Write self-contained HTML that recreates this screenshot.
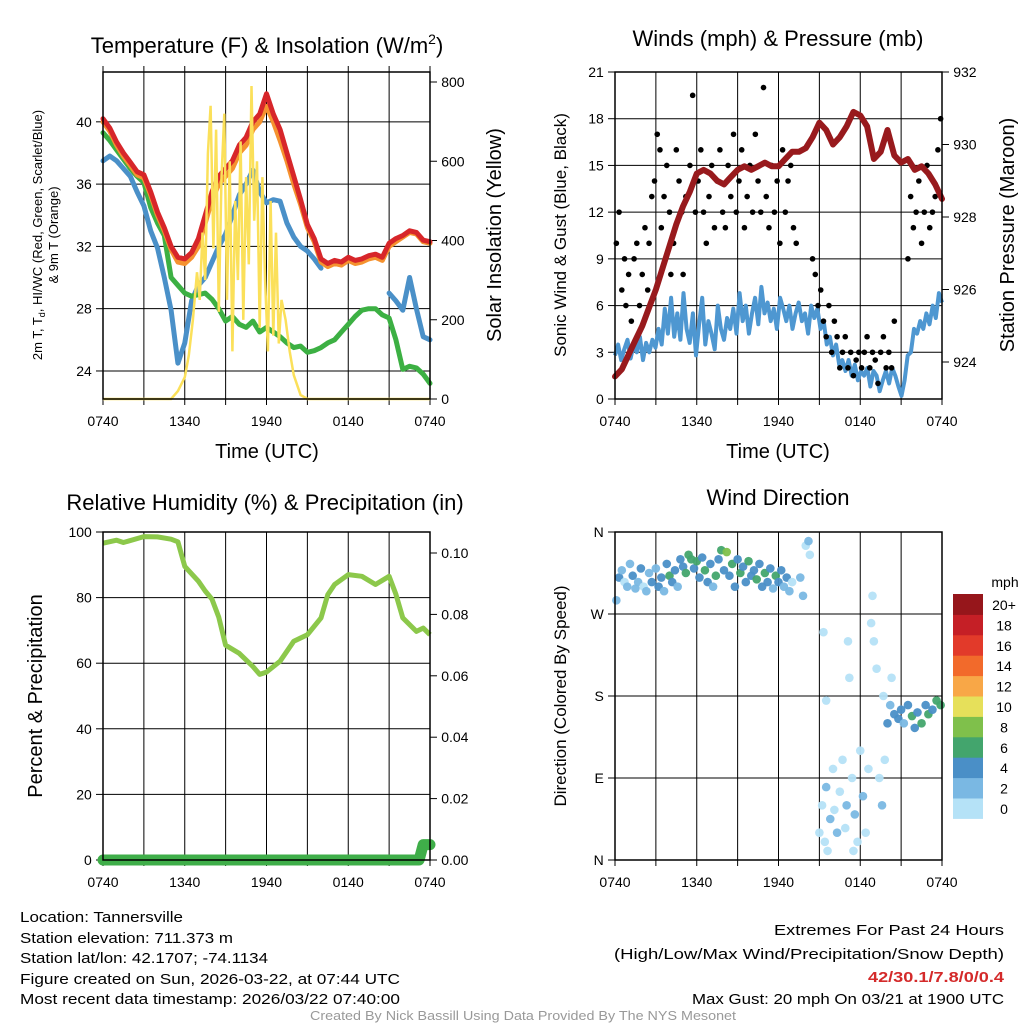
<!DOCTYPE html>
<html><head><meta charset="utf-8"><style>
body{margin:0;background:#fff;}
svg text{font-family:"Liberation Sans",sans-serif;fill:#000;}
</style></head><body>
<svg id="chart" width="1024" height="1024" viewBox="0 0 1024 1024" xmlns="http://www.w3.org/2000/svg">
<g id="layer"></g>
<g font-size="22">
<text x="267" y="53" text-anchor="middle" font-size="22">Temperature (F) &amp; Insolation (W/m<tspan font-size="14" dy="-9">2</tspan><tspan dy="9">)</tspan></text>
<text x="778" y="46" text-anchor="middle" font-size="22">Winds (mph) &amp; Pressure (mb)</text>
<text x="265" y="510" text-anchor="middle" font-size="22">Relative Humidity (%) &amp; Precipitation (in)</text>
<text x="778" y="505" text-anchor="middle" font-size="22">Wind Direction</text>
<text x="267" y="458" text-anchor="middle" font-size="20">Time (UTC)</text>
<text x="778" y="458" text-anchor="middle" font-size="20">Time (UTC)</text>
<text transform="translate(42,235) rotate(-90)" text-anchor="middle" font-size="13">2m T, T<tspan font-size="9" dy="3">d</tspan><tspan dy="-3">, HI/WC (Red, Green, Scarlet/Blue)</tspan></text>
<text transform="translate(58,235) rotate(-90)" text-anchor="middle" font-size="13">&amp; 9m T (Orange)</text>
<text transform="translate(501,235) rotate(-90)" text-anchor="middle" font-size="20">Solar Insolation (Yellow)</text>
<text transform="translate(566,235) rotate(-90)" text-anchor="middle" font-size="17">Sonic Wind &amp; Gust (Blue, Black)</text>
<text transform="translate(1014,235) rotate(-90)" text-anchor="middle" font-size="20">Station Pressure (Maroon)</text>
<text transform="translate(42,696) rotate(-90)" text-anchor="middle" font-size="20">Percent &amp; Precipitation</text>
<text transform="translate(566,696) rotate(-90)" text-anchor="middle" font-size="17">Direction (Colored By Speed)</text>
</g>
<g font-size="15">
<text x="20" y="922" textLength="163" lengthAdjust="spacingAndGlyphs">Location: Tannersville</text>
<text x="20" y="943" textLength="213" lengthAdjust="spacingAndGlyphs">Station elevation: 711.373 m</text>
<text x="20" y="963" textLength="248" lengthAdjust="spacingAndGlyphs">Station lat/lon: 42.1707; -74.1134</text>
<text x="20" y="984" textLength="380" lengthAdjust="spacingAndGlyphs">Figure created on Sun, 2026-03-22, at 07:44 UTC</text>
<text x="20" y="1004" textLength="380" lengthAdjust="spacingAndGlyphs">Most recent data timestamp: 2026/03/22 07:40:00</text>
<text x="1004" y="935" text-anchor="end" textLength="230" lengthAdjust="spacingAndGlyphs">Extremes For Past 24 Hours</text>
<text x="1004" y="959" text-anchor="end" textLength="390" lengthAdjust="spacingAndGlyphs">(High/Low/Max Wind/Precipitation/Snow Depth)</text>
<text x="1004" y="982" text-anchor="end" font-weight="bold" style="fill:#d42a2a" textLength="136" lengthAdjust="spacingAndGlyphs">42/30.1/7.8/0/0.4</text>
<text x="1004" y="1004" text-anchor="end" textLength="312" lengthAdjust="spacingAndGlyphs">Max Gust: 20 mph On 03/21 at 1900 UTC</text>
<text x="523" y="1020" text-anchor="middle" font-size="13" style="fill:#999" textLength="426" lengthAdjust="spacingAndGlyphs">Created By Nick Bassill Using Data Provided By The NYS Mesonet</text>
</g>
</svg>
<script>
// ---------- DATA ----------
const halfHourT = [0,0.5,1,1.5,2,2.5,3,3.5,4,4.5,5,5.5,6,6.5,7,7.5,8,8.5,9,9.5,10,10.5,11,11.5,12,12.5,13,13.5,14,14.5,15,15.5,16,16.5,17,17.5,18,18.5,19,19.5,20,20.5,21,21.5,22,22.5,23,23.5,24];
const tempRed = [40.2,39.6,38.7,38,37.4,36.8,36.6,35.5,34.2,33.2,32,31.3,31.2,31.6,32.5,34,35.5,36.5,37,37.5,38.5,39,40,40.5,41.8,40.5,39.5,38,36.5,35,33.4,32.5,31.2,30.9,31.1,31,31.3,31.1,31.2,31.4,31.5,31.3,32.2,32.5,32.7,33,32.9,32.4,32.3];
const tempOrange = [40,39.4,38.5,37.8,37.2,36.6,36.4,35.3,34,33,31.8,31,30.9,31.3,32,33.5,35,36,36.5,37,38,38.5,39.5,40,41,40,38.8,37.5,36,34.7,33.2,32.3,31,30.7,30.9,30.8,31.1,30.9,31,31.2,31.3,31.1,32,32.3,32.6,32.9,32.8,32.3,32.2];
const tempGreen = [39.3,38.8,38.2,37.6,37,36.5,36.1,34.5,33.5,32.7,30,29.5,29,28.8,28.9,29,28.6,28,27.2,27.5,27,26.8,27.2,26.5,26.8,26.5,26.2,25.8,25.5,25.6,25.2,25.3,25.5,25.8,26,26.5,27,27.5,27.9,28,28,27.6,27.4,26,24.1,24.3,24.2,23.8,23.2];
const tempBlue = [37.5,37.8,37.5,37,36.5,35.5,34.6,33,31.9,30,27.9,24.5,25.8,28.5,29.5,30,31,32,32.8,34,35.3,36,36.9,35.5,34.8,35,34.9,33.5,32.6,32,31.7,31.2,30.6,null,null,null,null,null,null,null,null,null,29,28.5,27.9,30,28,26.2,26];
const solarT = [0,5,5.5,6,6.3,6.6,6.9,7.1,7.3,7.5,7.7,7.9,8.1,8.3,8.5,8.7,8.9,9.1,9.3,9.5,9.7,9.9,10.1,10.3,10.5,10.7,10.9,11.1,11.3,11.5,11.7,11.9,12.1,12.3,12.5,12.7,12.9,13.1,13.4,13.7,14,14.5,15,24];
const solarV = [0,0,20,55,110,200,320,250,420,300,620,740,380,680,220,560,720,250,600,120,500,300,650,200,560,340,790,450,600,180,560,300,120,500,160,420,140,250,200,120,60,10,0,0];
const sonicWind = [2.8,3.5,2.5,3.2,3.8,2.6,3.5,3,4,2.5,3.6,3,3.8,3.3,4.5,3.5,5.8,4.2,6.5,4,5.5,3.8,6.8,4.5,3.6,5.5,2.8,4.8,6.5,3.5,5,4.2,3.2,6,4.5,3.8,5.2,4.5,5.8,4.2,6.8,5,6,4.2,5.5,6.5,4.8,7.2,5.5,6.2,5,5.8,4.5,6.5,5.8,5,6,4.5,5.5,6.2,5,5.5,4.2,6,5.2,5.8,4.5,5,3.5,4,2.8,3.5,2.2,2.5,1.8,2.5,1.5,2.2,1.2,1.8,1.5,2,0.8,1.8,1.5,0.5,1.2,1.8,1,2,1.5,0.8,0.2,1.2,2.8,3,4.5,4.2,5,4.5,5.5,4.8,6,5.2,6.8,6.2];
const pressure = [923.6,923.8,924.2,924.6,925,925.5,926,926.6,927.2,927.8,928.3,928.7,929.2,929.3,929.2,929,928.9,929.1,929.3,929.4,929.3,929.4,929.5,929.4,929.4,929.6,929.8,929.8,929.9,930.2,930.6,930.4,930,930.2,930.5,930.9,930.8,930.5,929.6,929.8,930.4,929.7,929.5,929.6,929.3,929.4,929.2,928.9,928.5];
const gustT = [0.1,0.3,0.5,0.7,0.8,1,1.2,1.4,1.6,1.8,2,2.2,2.4,2.5,2.7,2.9,3.1,3.3,3.4,3.6,3.8,4,4.1,4.3,4.5,4.7,4.9,5,5.2,5.5,5.7,5.9,6.1,6.3,6.5,6.7,6.9,7.1,7.3,7.5,7.7,7.9,8.1,8.3,8.5,8.7,8.9,9.1,9.3,9.5,9.7,9.9,10.1,10.3,10.5,10.7,10.9,11.1,11.3,11.5,11.7,11.9,12.1,12.3,12.5,12.7,12.9,13.1,13.3,14.5,14.7,14.9,15.1,15.3,15.5,15.7,15.9,16.1,16.3,16.5,16.7,16.9,17.1,17.3,17.5,17.7,17.9,18.1,18.3,18.5,18.7,18.9,19.1,19.3,19.5,19.7,19.9,20.1,20.3,20.5,21.5,21.7,21.9,22.1,22.3,22.5,22.7,22.9,23.1,23.3,23.5,23.7,23.9];
const gustV = [10,12,7,9,6,8,5,9,10,6,8,11,7,10,13,14,17,16,11,13,15,12,8,10,16,14,12,8,13,15,19.5,12,14,16,12,10,13,15,11,14,16,12,11,15,13,17,12,14,16,11,13,15,12,17,14,12,20,13,11,15,12,14,10,16,12,14,15,11,10,9,8,6,7,5,4,6,3,5,4,2,3,4,2,3,1.5,2.5,3,2,3,4,2,3,2.5,1,3,4,2,3,2,5,9,13,11,12,14,10,12,15,11,12,13,16,18];
const rhT = [0,1,1.5,3,4,5,5.5,6,7,7.5,8,8.5,9,10,11,11.5,12,13,14,15,16,16.5,17,18,19,20,21,21.5,22,23,23.5,24];
const rhV = [96.6,97.5,96.8,98.6,98.5,97.8,97,89.5,85,82,79.5,74,65.5,63,59,56.6,57.3,60.6,66.7,68.7,73.8,80.9,84,87,86.5,84,86.5,81,73.8,69.7,70.7,68.7];
const precipT = [0,23.2,23.5,24];
const precipV = [0,0,0.005,0.005];
const dirT = [0.1,0.3,0.5,0.7,0.9,1.1,1.3,1.5,1.7,1.9,2.1,2.3,2.5,2.7,3,3.2,3.4,3.6,3.8,4,4.2,4.4,4.6,4.8,5,5.2,5.4,5.6,5.8,6,6.2,6.4,6.6,6.8,7,7.2,7.4,7.6,7.8,8,8.2,8.4,8.6,8.8,9,9.2,9.4,9.6,9.8,10,10.2,10.4,10.6,10.8,11,11.2,11.4,11.6,11.8,12,12.2,12.4,12.6,12.8,13,13.6,13.8,14,14.2,14.3,15,15.2,15.4,15.5,15.6,15.8,16,16.1,16.3,16.5,16.7,16.9,17,17.1,17.2,17.4,17.6,17.8,18,18.2,18.4,18.6,18.8,18.9,19,19.2,19.4,19.6,19.8,20,20.2,20.5,20.8,21,21.2,21.5,21.8,22,22.2,22.5,22.8,23,23.3,23.6,23.9,20.3,19.7,17.5,15.3,15.5];
const dirV = [285,310,318,305,300,325,312,298,305,320,300,295,315,305,320,300,310,295,325,312,305,318,300,330,322,315,335,330,320,328,310,332,318,305,325,300,312,330,340,318,338,312,325,300,330,315,322,305,328,312,318,308,325,300,315,305,320,298,312,305,318,300,310,295,305,310,290,345,350,335,30,60,20,80,10,45,100,55,30,75,110,35,60,240,200,90,50,20,120,70,30,100,260,290,240,210,90,60,110,150,170,160,155,165,150,170,158,145,162,150,170,160,165,175,170,200,180,10,250,175];
const dirSpd = [3,4,2,1,2,3,4,2,3,4,1,2,3,4,2,4,5,3,4,6,4,5,3,4,5,6,7,6,4,7,5,4,6,4,5,3,6,4,7,5,8,4,6,4,5,6,4,5,6,4,5,6,4,5,6,4,5,3,6,4,5,3,4,2,1,2,3,1,2,1,1,0,1,2,1,3,1,0,2,1,0,1,2,0,0,1,3,0,1,2,1,0,1,0,1,0,1,2,1,4,3,4,5,4,3,5,6,4,5,6,4,7,5,6,7,0,1,1,1,0];
const speedColors = ['#b5e2f7','#7ab8e3','#4a8fc7','#43a56d','#7fc04b','#e6e05a','#f8a747','#f26a2b','#e23a2a','#c51f26','#96161b'];
const speedLabels = ['0','2','4','6','8','10','12','14','16','18','20+'];
const tempTicks = [24,28,32,36,40];
const solarTicks = [0,200,400,600,800];
const windTicks = [0,3,6,9,12,15,18,21];
const pressTicks = [924,926,928,930,932];
const rhTicks = [0,20,40,60,80,100];
const precipTicks = [0,0.02,0.04,0.06,0.08,0.10];
const dirTicks = [0,90,180,270,360];
const dirLabels = ['N','E','S','W','N'];
const timeLabels = ['0740','1340','1940','0140','0740'];
const timeLabelHours = [0,6,12,18,24];
const gridHours = [0,3,6,9,12,15,18,21,24];

// ---------- HELPERS ----------
const NS='http://www.w3.org/2000/svg';
const layer=document.getElementById('layer');
function mk(tag,attrs,parent){const e=document.createElementNS(NS,tag);for(const k in attrs)e.setAttribute(k,attrs[k]);(parent||layer).appendChild(e);return e;}
function lin(d0,d1,r0,r1){return v=>r0+(v-d0)*(r1-r0)/(d1-d0);}
function pathD(xs,ys,fx,fy){let d='',pen=false;for(let i=0;i<xs.length;i++){if(ys[i]===null||ys[i]===undefined){pen=false;continue;}d+=(pen?'L':'M')+fx(xs[i]).toFixed(1)+','+fy(ys[i]).toFixed(1);pen=true;}return d;}

function panel(name){
  const g=mk('g',{});
  
  
  return g;
}
function grid(g,L,R,T,B,fx,hy){
  gridHours.forEach(h=>{const l=mk('line',{x1:fx(h),x2:fx(h),y1:T,y2:B,stroke:'#000','stroke-width':1},g);
    const t=mk('line',{x1:fx(h),x2:fx(h),y1:B,y2:B+6,stroke:'#000','stroke-width':1},g);});
  hy.forEach(y=>{const l=mk('line',{x1:L,x2:R,y1:y,y2:y,stroke:'#000','stroke-width':1},g);});
  timeLabelHours.forEach((h,i)=>{const t=mk('text',{x:fx(h),y:B+27,'text-anchor':'middle','font-size':14},g);t.textContent=timeLabels[i];});
}
function frame(g,L,R,T,B){const r=mk('rect',{x:L,y:T,width:R-L,height:B-T,fill:'none',stroke:'#000','stroke-width':1.5},g);}
function yTicks(g,ticks,fy,x,side,labels){
  ticks.forEach((v,i)=>{const y=fy(v);const dx=side==='left'?-7:7;
    const l=mk('line',{x1:x,x2:x+dx,y1:y,y2:y,stroke:'#000'},g);
    const t=mk('text',{x:x+dx*1.6,y:y+5,'text-anchor':side==='left'?'end':'start','font-size':14},g);t.textContent=labels?labels[i]:v;});
}

// ---------- PANEL 1: temperature ----------
(function(){
  const L=103,R=430,T=72,B=399;
  const g=panel('temperature-panel');
  const fx=lin(0,24,L,R), fy=lin(22.2,43.2,B,T), fs=lin(0,800,B,82);
  grid(g,L,R,T,B,fx,tempTicks.map(fy));
  yTicks(g,tempTicks,fy,L,'left');
  yTicks(g,solarTicks,fs,R,'right');
  gridHours.forEach(h=>{const t=mk('line',{x1:fx(h),x2:fx(h),y1:T,y2:T-6,stroke:'#000'},g);});
  [['temp-blue-line',tempBlue,'#4a90c8'],['temp-green-line',tempGreen,'#3cb043'],['temp-orange-line',tempOrange,'#f5922f'],['temp-red-line',tempRed,'#d7262a']].forEach(s=>{
    const p=mk('path',{d:pathD(halfHourT,s[1],fx,fy),fill:'none',stroke:s[2],'stroke-width':5,'stroke-linejoin':'round','stroke-linecap':'round'},g);
    });
  const y=mk('path',{d:pathD(solarT,solarV,fx,fs),fill:'none',stroke:'#fbe05a','stroke-width':2.5},g);
  
  frame(g,L,R,T,B);
})();

// ---------- PANEL 2: winds ----------
(function(){
  const L=615,R=942,T=72,B=399;
  const g=panel('winds-panel');
  const fx=lin(0,24,L,R), fy=lin(0,21,B,T), fp=lin(924,932,362,72);
  grid(g,L,R,T,B,fx,windTicks.map(fy));
  yTicks(g,windTicks,fy,L,'left');
  yTicks(g,pressTicks,fp,R,'right');
  const windT=sonicWind.map((v,i)=>i*24/(sonicWind.length-1));
  const w=mk('path',{d:pathD(windT,sonicWind,fx,fy),fill:'none',stroke:'#4e97d1','stroke-width':4,'stroke-linejoin':'round'},g);
  
  gustT.forEach((t,i)=>{const c=mk('circle',{cx:fx(t),cy:fy(gustV[i]),r:2.8,fill:'#000'},g);});
  const p=mk('path',{d:pathD(halfHourT,pressure,fx,fp),fill:'none',stroke:'#981a1d','stroke-width':6,'stroke-linejoin':'round','stroke-linecap':'round'},g);
  
  frame(g,L,R,T,B);
})();

// ---------- PANEL 3: RH ----------
(function(){
  const L=103,R=430,T=532,B=860;
  const g=panel('humidity-panel');
  const fx=lin(0,24,L,R), fq=lin(0,0.10,B,553);
  const fr=lin(0,100,B,B-328);
  grid(g,L,R,T,B,fx,[20,40,60,80].map(fr));
  yTicks(g,rhTicks,fr,L,'left');
  yTicks(g,precipTicks,fq,R,'right',['0.00','0.02','0.04','0.06','0.08','0.10']);
  const p=mk('path',{d:pathD(rhT,rhV,fx,fr),fill:'none',stroke:'#8cc84b','stroke-width':5,'stroke-linejoin':'round'},g);
  
  const q=mk('path',{d:pathD(precipT,precipV,fx,fq),fill:'none',stroke:'#3fae49','stroke-width':11,'stroke-linecap':'round','stroke-linejoin':'round'},g);
  
  frame(g,L,R,T,B);
})();

// ---------- PANEL 4: direction ----------
(function(){
  const L=615,R=942,T=532,B=860;
  const g=panel('direction-panel');
  const fx=lin(0,24,L,R), fy=lin(0,360,B,T);
  grid(g,L,R,T,B,fx,dirTicks.map(fy));
  yTicks(g,dirTicks,fy,L,'left',dirLabels);
  dirT.forEach((t,i)=>{const ci=Math.min(10,Math.floor(dirSpd[i]/2));
    const c=mk('circle',{cx:fx(t),cy:fy(dirV[i]),r:4.3,fill:speedColors[ci],'fill-opacity':0.95},g);
    });
  frame(g,L,R,T,B);
  const lg=mk('g',{});
  
  
  const h=20.4, top=594;
  speedColors.forEach((col,i)=>{const yy=top+(10-i)*h;
    const r=mk('rect',{x:953,y:yy,width:30,height:h+0.5,fill:col},lg);
    const t=mk('text',{x:1004,y:yy+16,'text-anchor':'middle','font-size':14},lg);t.textContent=speedLabels[i];});
  const u=mk('text',{x:1005,y:587,'text-anchor':'middle','font-size':14},lg);u.textContent='mph';
  
  
})();
</script>
</body></html>
